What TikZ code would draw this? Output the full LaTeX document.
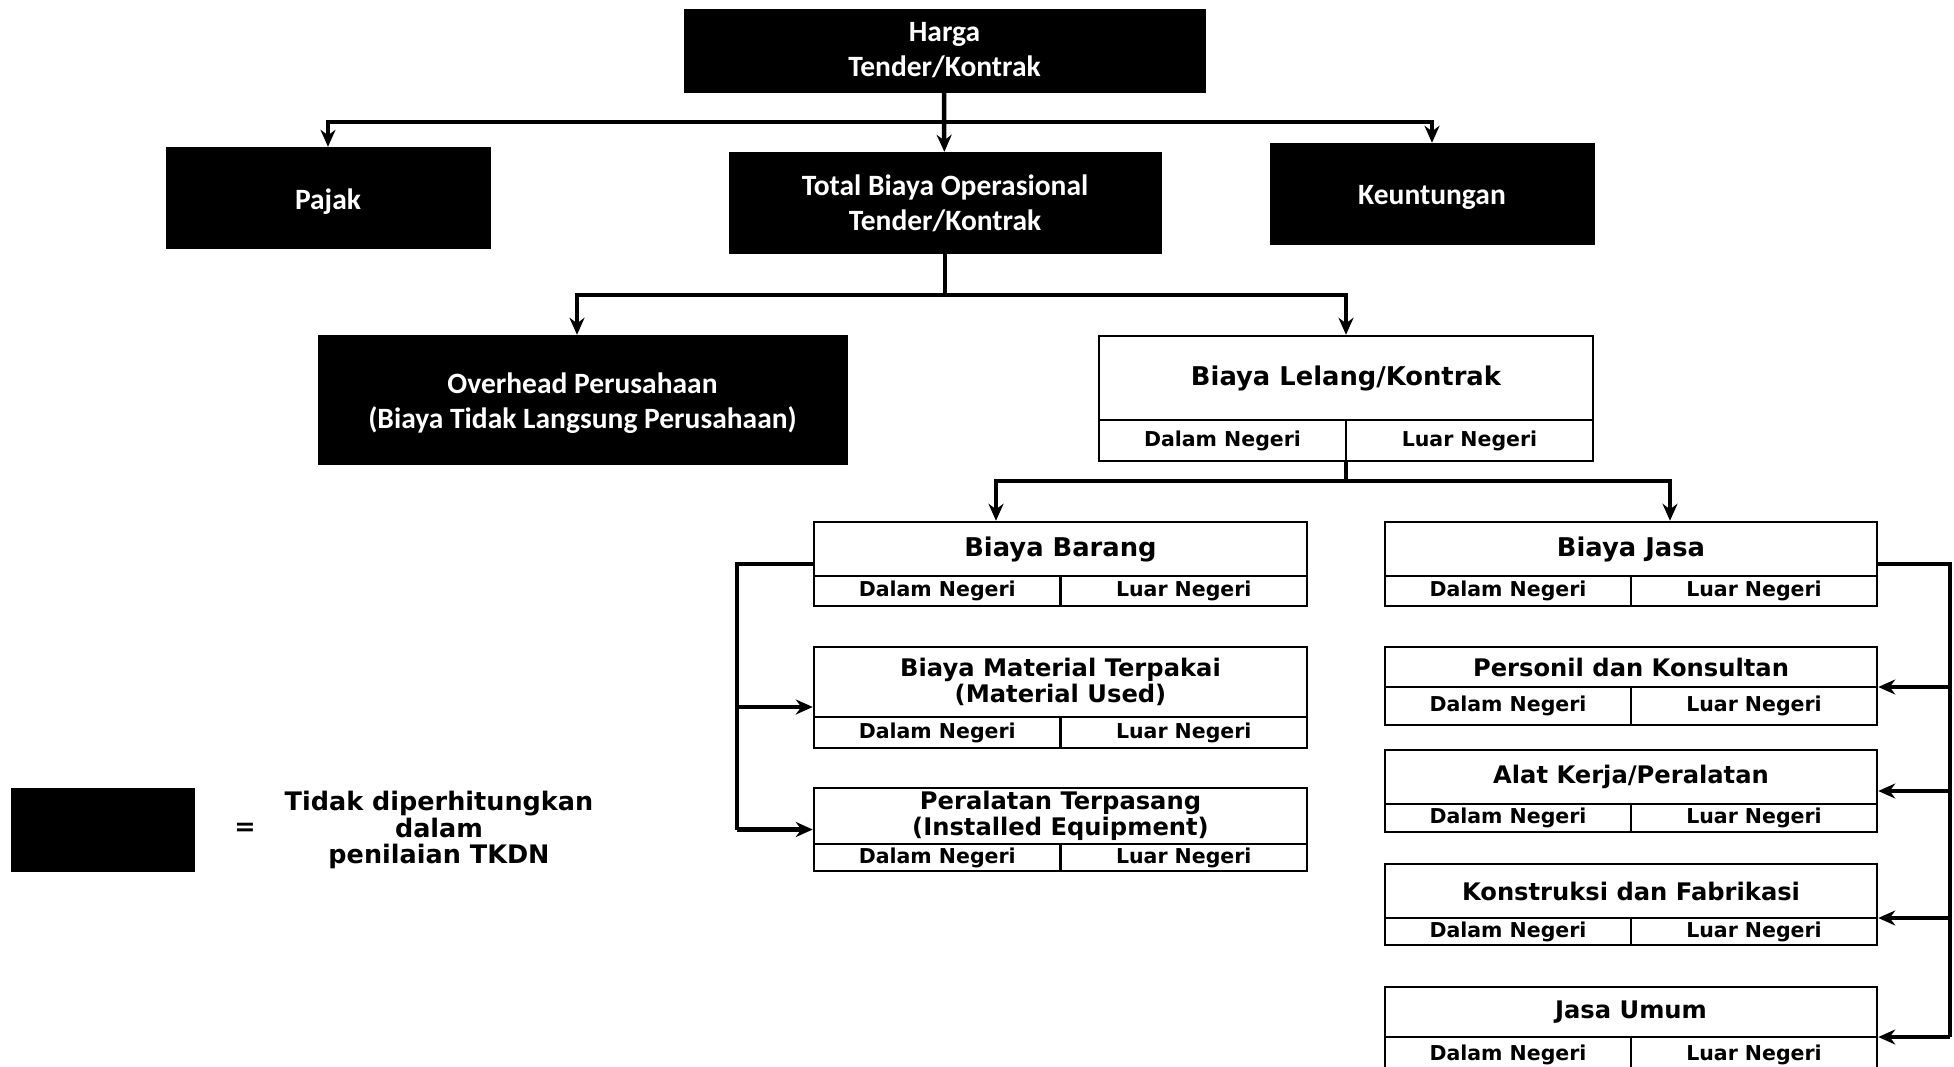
\documentclass[tikz,border=0pt]{standalone}
\usepackage{fontspec}
\setmainfont{Carlito}
\newfontfamily\dvs{DejaVu Sans}
\usetikzlibrary{arrows.meta}

\tikzset{
 blackbox/.style={fill=black, draw=black, inner sep=0pt},
 blacktext/.style={text=white, font=\bfseries\fontsize{29.5}{35}\selectfont, align=center, inner sep=0pt},
 wbox/.style={draw=black, line width=2.5pt, fill=white, inner sep=0pt},
 divline/.style={line width=2.5pt},
 conn/.style={line width=4.5pt, line join=miter},
 arr/.style={line width=4.5pt, -{Stealth[length=17pt,width=15pt]}},
 vtitle/.style={font=\dvs\bfseries\fontsize{25.8}{29}\selectfont, align=center, inner sep=0pt},
 ctitle/.style={font=\dvs\bfseries\fontsize{24.2}{26.5}\selectfont, align=center, inner sep=0pt},
 cell/.style={font=\dvs\bfseries\fontsize{20.5}{22}\selectfont, inner sep=0pt},
 legtext/.style={font=\dvs\bfseries\fontsize{25.5}{26.5}\selectfont, align=center, inner sep=0pt}
}

\newcommand\bbx[7]{%
 \pgfmathsetmacro\bbcx{(#2+#4)/2}%
 \pgfmathsetmacro\bbcy{(#3+#5)/2}%
 \pgfmathsetmacro\bbty{(#3+#5)/2+#7}%
 \pgfmathsetmacro\bbw{#4-#2}%
 \pgfmathsetmacro\bbh{#5-#3}%
 \node[blackbox, minimum width=\bbw pt, minimum height=\bbh pt] (#1) at (\bbcx,\bbcy) {};
 \node[blacktext] (#1-txt) at (\bbcx,\bbty) {#6};}

\newcommand\splitbx[8]{%
 \pgfmathsetmacro\sbcx{(#2+#4)/2}%
 \pgfmathsetmacro\sbcy{(#3+#5)/2}%
 \pgfmathsetmacro\sbw{#4-#2}%
 \pgfmathsetmacro\sbh{#5-#3}%
 \pgfmathsetmacro\sbty{(#3+#6)/2}%
 \pgfmathsetmacro\sbcely{(#6+#5)/2}%
 \pgfmathsetmacro\sbl{(3*#2+#4)/4}%
 \pgfmathsetmacro\sbr{(#2+3*#4)/4}%
 \node[wbox, minimum width=\sbw pt, minimum height=\sbh pt] (#1) at (\sbcx,\sbcy) {};
 \draw[divline] (#2,#6) -- (#4,#6);
 \draw[divline] (\sbcx,#6) -- (\sbcx,#5);
 \node[#7] (#1-t) at (\sbcx,\sbty) {#8};
 \node[cell] (#1-d) at (\sbl,\sbcely) {Dalam Negeri};
 \node[cell] (#1-l) at (\sbr,\sbcely) {Luar Negeri};}

\begin{document}
\begin{tikzpicture}[x=1pt,y=-1pt]
\clip (0,0) rectangle (1954,1066);
\fill[white] (0,0) rectangle (1954,1066);

% black (not counted) boxes
\bbx{harga}{684}{9}{1205}{92}{Harga\\Tender/Kontrak}{0}
\bbx{pajak}{166}{147}{490}{248}{Pajak}{4}
\bbx{total}{729}{152}{1161}{253}{Total Biaya Operasional\\Tender/Kontrak}{1}
\bbx{keun}{1270}{143}{1594}{244}{Keuntungan}{4}
\bbx{overhead}{318}{335}{847}{464}{Overhead Perusahaan\\(Biaya Tidak Langsung Perusahaan)}{4}

% split boxes
\splitbx{lelang}{1099}{336}{1593}{461}{420}{vtitle}{Biaya Lelang/Kontrak}
\splitbx{barang}{814}{522}{1307}{606}{576}{vtitle}{Biaya Barang}
\splitbx{jasa}{1385}{522}{1877}{606}{576}{vtitle}{Biaya Jasa}
\splitbx{material}{814}{647}{1307}{748}{717}{ctitle}{Biaya Material Terpakai\\(Material Used)}
\splitbx{peralatan}{814}{788}{1307}{871}{844}{ctitle}{Peralatan Terpasang\\(Installed Equipment)}
\splitbx{personil}{1385}{647}{1877}{725}{687}{ctitle}{Personil dan Konsultan}
\splitbx{alat}{1385}{750}{1877}{832}{804}{ctitle}{Alat Kerja/Peralatan}
\splitbx{konstruksi}{1385}{864}{1877}{945}{918}{ctitle}{Konstruksi dan Fabrikasi}
\splitbx{umum}{1385}{987}{1877}{1072}{1037}{ctitle}{Jasa Umum}

% connectors: level 1
\coordinate (j1) at (944,122);
\draw[conn] (harga) -- (j1);
\draw[conn] (328,122) -- (1432,122);
\draw[arr] (j1) -| (pajak);
\draw[arr] (j1) -- (total);
\draw[arr] (j1) -| (keun);

% level 2
\coordinate (j2) at (945,295);
\draw[conn] (total) -- (j2);
\draw[conn] (577,295) -- (1346,295);
\draw[arr] (j2) -| ([xshift=-5.5pt]overhead.north);
\draw[arr] (j2) -| (lelang);

% level 3
\coordinate (j3) at (1346,481);
\draw[conn] (lelang) -- (j3);
\draw[conn] (996,481) -- (1670,481);
\draw[arr] (j3) -| ([xshift=-64.5pt]barang.north);
\draw[arr] (j3) -| ([xshift=39pt]jasa.north);

% left bracket
\coordinate (lb1) at (737,564);
\coordinate (lb2) at (737,707);
\coordinate (lb3) at (737,829.5);
\draw[conn] (barang.west) -- (lb1) -- (lb3);
\draw[arr] (lb2) -- (lb2 -| material.west);
\draw[arr] (lb3) -- (peralatan.west);

% right bracket
\coordinate (rb1) at (1950,564);
\coordinate (rb2) at (1950,687);
\coordinate (rb3) at (1950,791);
\coordinate (rb4) at (1950,918);
\coordinate (rb5) at (1950,1037);
\draw[conn] (jasa.east) -- (rb1) -- (rb5);
\draw[arr] (rb2) -- (rb2 -| personil.east);
\draw[arr] (rb3) -- (alat.east);
\draw[arr] (rb4) -- (rb4 -| konstruksi.east);
\draw[arr] (rb5) -- (rb5 -| umum.east);

% legend
\node[blackbox, minimum width=183pt, minimum height=83pt] (legbox) at (102.5,829.5) {};
\node[legtext] (eq) at (245,829) {=};
\node[legtext] (legt) at (439,830) {Tidak diperhitungkan\\dalam\\penilaian TKDN};
\end{tikzpicture}
\end{document}
